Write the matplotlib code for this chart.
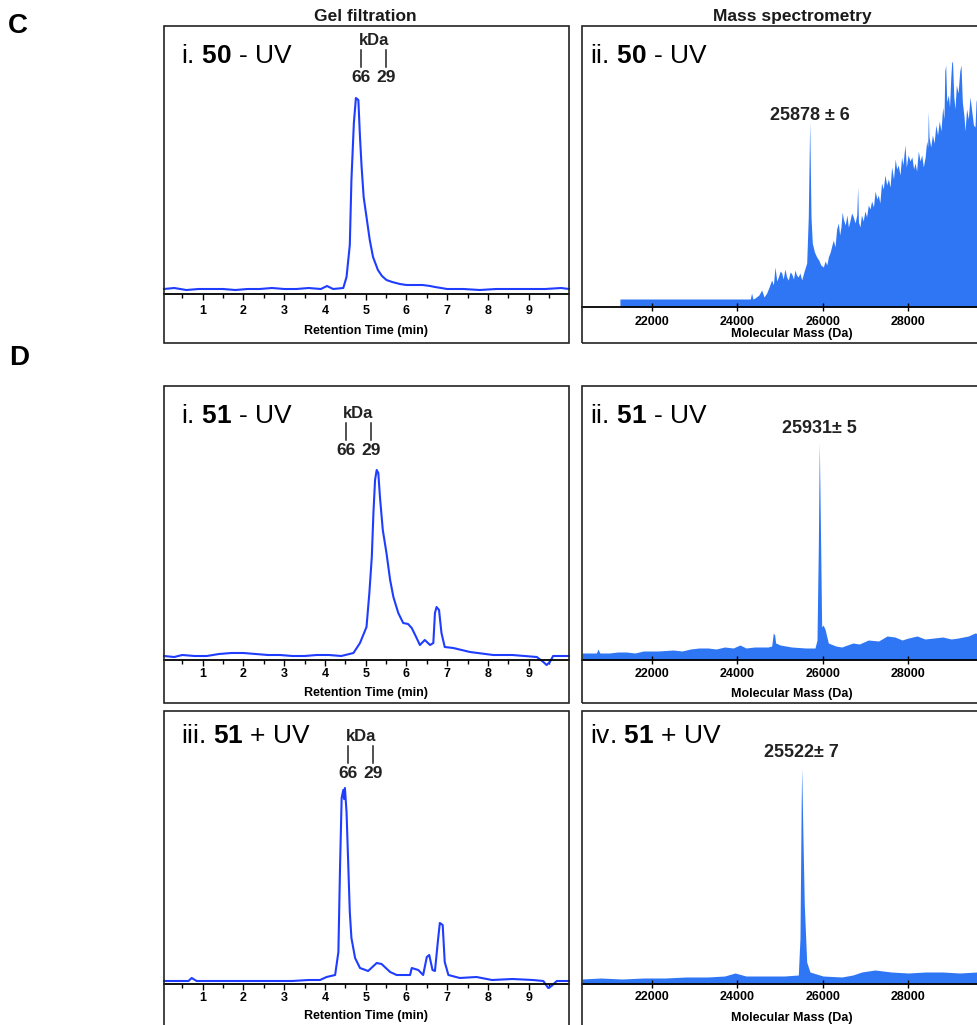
import numpy as np
import matplotlib.pyplot as plt
from matplotlib.patches import Rectangle
from matplotlib.ticker import MultipleLocator
from matplotlib.transforms import blended_transform_factory

plt.rcParams['font.family'] = ['Liberation Sans', 'DejaVu Sans']
plt.rcParams['mathtext.fontset'] = 'custom'
plt.rcParams['mathtext.rm'] = 'Liberation Sans'
plt.rcParams['mathtext.bf'] = 'Liberation Sans:bold'

# ---- gel filtration traces (retention time in min, absorbance a.u.) ----
gel_c_time = [0.05, 0.3, 0.6, 0.9, 1.2, 1.5, 1.8, 2.1, 2.4, 2.7,
              3.0, 3.3, 3.6, 3.9, 4.05, 4.2, 4.45, 4.53, 4.61, 4.65,
              4.71, 4.76, 4.82, 4.86, 4.9, 4.95, 5.02, 5.1, 5.18, 5.3,
              5.4, 5.51, 5.65, 5.84, 6.0, 6.17, 6.4, 6.58, 6.7, 7.0,
              7.4, 7.8, 8.2, 8.6, 9.0, 9.4, 9.8, 9.99]
gel_c_abs = [5, 6, 4, 5, 5, 5, 4, 5, 5, 6,
             5, 5, 6, 5, 8, 5, 6, 17, 49, 114,
             171, 196, 194, 157, 127, 97, 77, 54, 37, 24,
             18, 14, 12, 10, 9, 9, 9, 8, 7, 5,
             5, 4, 5, 5, 5, 5, 6, 5]

gel_d1_time = [0.05, 0.3, 0.5, 0.8, 1.1, 1.4, 1.7, 2.0, 2.3, 2.6,
               2.9, 3.2, 3.5, 3.8, 4.1, 4.4, 4.7, 4.86, 5.02, 5.09,
               5.15, 5.19, 5.23, 5.27, 5.31, 5.35, 5.42, 5.51, 5.6, 5.68,
               5.8, 5.92, 6.04, 6.13, 6.25, 6.33, 6.45, 6.58, 6.66, 6.7,
               6.74, 6.8, 6.86, 6.94, 7.15, 7.56, 8.13, 8.6, 9.2, 9.36,
               9.44, 9.52, 9.6, 9.8, 9.99]
gel_d1_abs = [4, 3, 5, 4, 4, 6, 7, 7, 6, 5,
              5, 4, 4, 5, 5, 4, 7, 17, 33, 67,
              103, 147, 180, 190, 187, 163, 130, 107, 80, 63,
              47, 37, 36, 32, 22, 15, 20, 15, 17, 47,
              53, 50, 27, 13, 12, 8, 5, 5, 3, -2,
              -5, -2, 4, 4, 4]

gel_d2_time = [0.05, 0.4, 0.65, 0.73, 0.85, 1.2, 1.6, 2.0, 2.4, 2.8,
               3.2, 3.6, 3.88, 4.04, 4.25, 4.33, 4.37, 4.41, 4.45, 4.47,
               4.49, 4.53, 4.57, 4.61, 4.65, 4.74, 4.86, 5.06, 5.27, 5.39,
               5.6, 5.76, 6.09, 6.13, 6.29, 6.41, 6.5, 6.56, 6.64, 6.7,
               6.78, 6.82, 6.89, 6.94, 7.03, 7.31, 7.72, 8.1, 8.6, 9.1,
               9.36, 9.48, 9.56, 9.69, 9.99]
gel_d2_abs = [3, 3, 3, 6, 3, 3, 3, 3, 3, 3,
              3, 4, 4, 7, 9, 32, 116, 186, 194, 185,
              196, 172, 122, 72, 46, 26, 16, 13, 21, 20,
              12, 9, 9, 16, 14, 9, 27, 29, 14, 13,
              46, 61, 59, 22, 9, 6, 7, 4, 5, 4,
              3, -4, -2, 3, 3]

# size standards (retention time of 66 kDa and 29 kDa markers)
std_66 = [4.88, 4.52, 4.57]
std_29 = [5.51, 5.13, 5.19]

# ---- deconvoluted mass spectra (Da, intensity a.u.) ----
ms_c_mass = [21250, 24300, 24330, 24360, 24410, 24500, 24566, 24620, 24683, 24740,
             24800, 24840, 24877, 24920, 24955, 25000, 25034, 25070, 25110, 25150,
             25190, 25230, 25270, 25310, 25345, 25380, 25420, 25460, 25502, 25560,
             25619, 25656, 25689, 25720, 25750, 25800, 25853, 25900, 25950, 26009,
             26050, 26090, 26125, 26170, 26210, 26242, 26280, 26320, 26359, 26390,
             26420, 26450, 26476, 26520, 26560, 26593, 26630, 26670, 26710, 26750,
             26790, 26811, 26830, 26865, 26900, 26940, 26982, 27020, 27060, 27100,
             27138, 27180, 27220, 27260, 27294, 27330, 27370, 27410, 27450, 27490,
             27530, 27570, 27606, 27650, 27690, 27723, 27760, 27801, 27840, 27870,
             27918, 27950, 27990, 28035, 28080, 28120, 28152, 28190, 28230, 28270,
             28310, 28347, 28390, 28425, 28450, 28464, 28480, 28520, 28560, 28600,
             28640, 28680, 28720, 28760, 28800, 28830, 28850, 28870, 28895, 28932,
             28960, 28990, 29010, 29030, 29060, 29088, 29120, 29160, 29200, 29228,
             29260, 29300, 29322, 29360, 29400, 29439, 29480, 29520, 29556, 29580,
             29602, 29650, 29700, 29800, 29900, 30200]
ms_c_int = [8, 8, 14, 8, 9, 12, 17, 10, 14, 20,
            27, 22, 40, 26, 30, 36, 34, 28, 38, 30,
            27, 35, 33, 28, 37, 32, 30, 34, 27, 36,
            44, 90, 185, 90, 64, 55, 50, 47, 42, 40,
            46, 42, 50, 55, 62, 67, 60, 78, 84, 72,
            80, 95, 88, 82, 92, 80, 86, 94, 90, 84,
            92, 120, 85, 80, 92, 86, 96, 90, 102, 98,
            106, 100, 116, 108, 112, 104, 124, 118, 132, 122,
            128, 120, 140, 128, 148, 138, 142, 132, 150, 142,
            162, 140, 152, 146, 150, 138, 144, 136, 156, 146,
            152, 140, 150, 166, 160, 196, 170, 160, 172, 164,
            182, 172, 186, 176, 200, 188, 236, 242, 205, 212,
            200, 230, 244, 246, 210, 198, 222, 214, 236, 242,
            205, 190, 176, 198, 188, 210, 196, 182, 180, 205,
            210, 196, 200, 212, 205, 200]

ms_d1_mass = [20363, 20700, 20737, 20780, 21000, 21200, 21400, 21600, 21800, 22140,
              22500, 22700, 22900, 23100, 23310, 23500, 23700, 23900, 24058, 24200,
              24400, 24713, 24800, 24838, 24870, 24893, 25000, 25267, 25600, 25813,
              25860, 25891, 25914, 25946, 25969, 26000, 26047, 26125, 26300, 26437,
              26700, 26850, 27061, 27300, 27500, 27684, 27850, 28000, 28200, 28386,
              28600, 28800, 29000, 29165, 29400, 29556, 29800, 30200]
ms_d1_int = [7, 7, 11, 7, 7, 8, 8, 7, 9, 9,
             10, 9, 11, 12, 12, 11, 13, 12, 15, 12,
             13, 13, 14, 27, 25, 17, 15, 13, 12, 12,
             20, 113, 217, 113, 33, 35, 31, 17, 14, 13,
             17, 16, 20, 19, 24, 23, 20, 22, 24, 21,
             22, 23, 21, 22, 24, 27, 25, 25]

ms_d2_mass = [20363, 20800, 21300, 21800, 22300, 22800, 23300, 23700, 23942, 24200,
              24700, 25100, 25423, 25462, 25490, 25502, 25532, 25563, 25619, 25696,
              26000, 26437, 26700, 26905, 27216, 27600, 27996, 28400, 28800, 29200,
              29600, 30200]
ms_d2_int = [5, 6, 5, 6, 6, 7, 7, 8, 11, 8,
             8, 8, 9, 46, 180, 216, 146, 79, 22, 12,
             8, 7, 9, 12, 14, 12, 11, 12, 12, 11,
             12, 12]

peak_mass = [25689, 25914, 25502]
peak_labels = ['25878 ± 6', '25931± 5', '25522± 7']

gel_labels = ['i. $\\mathbf{50}$ - UV', 'i. $\\mathbf{51}$ - UV', 'iii. $\\mathbf{51}$ + UV']
ms_labels = ['ii. $\\mathbf{50}$ - UV', 'ii. $\\mathbf{51}$ - UV', 'iv. $\\mathbf{51}$ + UV']

gel_data = [(gel_c_time, gel_c_abs), (gel_d1_time, gel_d1_abs), (gel_d2_time, gel_d2_abs)]
ms_data = [(ms_c_mass, ms_c_int), (ms_d1_mass, ms_d1_int), (ms_d2_mass, ms_d2_int)]

W, H = 977, 1025
fig = plt.figure(figsize=(W / 100, H / 100), dpi=100)


def fx(px):
    return px / W


def fy(py):
    return 1 - py / H


def make_panel(left, right, top, bottom, axis_y):
    fig.add_artist(Rectangle((fx(left), fy(bottom)), fx(right) - fx(left), (bottom - top) / H,
                             transform=fig.transFigure, fill=False, lw=1.2, ec='#222222'))
    ax = fig.add_axes([fx(left), fy(axis_y), fx(right) - fx(left), (axis_y - top) / H])
    ax.patch.set_alpha(0)
    for s in ['top', 'left', 'right']:
        ax.spines[s].set_visible(False)
    ax.spines['bottom'].set_linewidth(1.3)
    ax.set_yticks([])
    ax.set_ylim(0, axis_y - top)
    return ax


line_col = '#1f3dff'
fill_col = '#2f76f5'

tops = [26, 386, 711]
bottoms = [343, 703, 1040]
axis_gel = [294, 660, 984]
axis_ms = [307, 660, 984]
label_base = [63, 423, 743]
gel_xlab_gap = [31, 27, 26]
gel_tick_gap = [10, 7, 7]
ms_xlab_gap = [21, 28, 28]
ms_tick_gap = [8, 7, 6]
kda_base = [45, 418, 741]
peak_base = [120, 433, 757]

for k in range(3):
    # gel filtration
    ax = make_panel(164, 569, tops[k], bottoms[k], axis_gel[k])
    t, a = gel_data[k]
    ax.plot(t, a, color=line_col, lw=1.5, clip_on=False)
    ax.set_xlim(0.05, 9.99)
    ax.set_xticks(range(1, 10))
    ax.xaxis.set_minor_locator(MultipleLocator(0.5))
    ax.tick_params(axis='x', which='major', direction='out', length=4, width=1,
                   labelsize=9, pad=max(gel_tick_gap[k] - 5, 0) * 0.72)
    ax.tick_params(axis='x', which='minor', direction='out', length=3, width=1)
    for lab in ax.get_xticklabels():
        lab.set_fontweight('bold')
    ax.set_xlabel('Retention Time (min)', fontsize=9, fontweight='bold')
    ax.xaxis.set_label_coords(0.5, -gel_xlab_gap[k] / (axis_gel[k] - tops[k]))
    fig.text(fx(181), fy(label_base[k]), gel_labels[k], fontsize=19, va='baseline')

    tr = blended_transform_factory(ax.transData, fig.transFigure)
    kb = kda_base[k]
    ax.text((std_66[k] + std_29[k]) / 2, fy(kb), 'kDa', transform=tr, ha='center',
            va='baseline', fontsize=12, fontweight='bold', color='#222222')
    for xs, name in [(std_66[k], '66'), (std_29[k], '29')]:
        ax.plot([xs, xs], [fy(kb + 5), fy(kb + 22)], transform=tr, color='#222222',
                lw=1.1, clip_on=False)
        ax.text(xs, fy(kb + 37), name, transform=tr, ha='center', va='baseline',
                fontsize=12.5, fontweight='bold', color='#222222')

    # mass spectrometry
    ax2 = make_panel(582, 1100, tops[k], bottoms[k], axis_ms[k])
    m, i = ms_data[k]
    ax2.fill_between(m, 0, i, color=fill_col, lw=0)
    ax2.set_xlim(20363, 32480)
    ax2.set_xticks([22000, 24000, 26000, 28000])
    ax2.tick_params(axis='x', direction='inout', length=6, width=1, labelsize=9,
                    pad=max(ms_tick_gap[k] - 3, 0) * 0.72)
    for lab in ax2.get_xticklabels():
        lab.set_fontweight('bold')
    ax2.set_xlabel('Molecular Mass (Da)', fontsize=9, fontweight='bold')
    ax2.xaxis.set_label_coords((792 - 582) / (1100 - 582), -ms_xlab_gap[k] / (axis_ms[k] - tops[k]))
    fig.text(fx(590), fy(label_base[k]), ms_labels[k], fontsize=19, va='baseline')
    tr2 = blended_transform_factory(ax2.transData, fig.transFigure)
    ax2.text(peak_mass[k], fy(peak_base[k]), peak_labels[k], transform=tr2, ha='center',
             va='baseline', fontsize=13, fontweight='bold', color='#222222')

fig.text(fx(365), fy(21), 'Gel filtration', ha='center', va='baseline',
         fontsize=12.5, fontweight='bold', color='#1a1a1a')
fig.text(fx(792), fy(21), 'Mass spectrometry', ha='center', va='baseline',
         fontsize=12.5, fontweight='bold', color='#1a1a1a')
fig.text(fx(8), fy(33), 'C', fontsize=20, fontweight='bold', va='baseline')
fig.text(fx(9), fy(365), 'D', fontsize=20, fontweight='bold', va='baseline')

fig.savefig('out.png', dpi=100)
